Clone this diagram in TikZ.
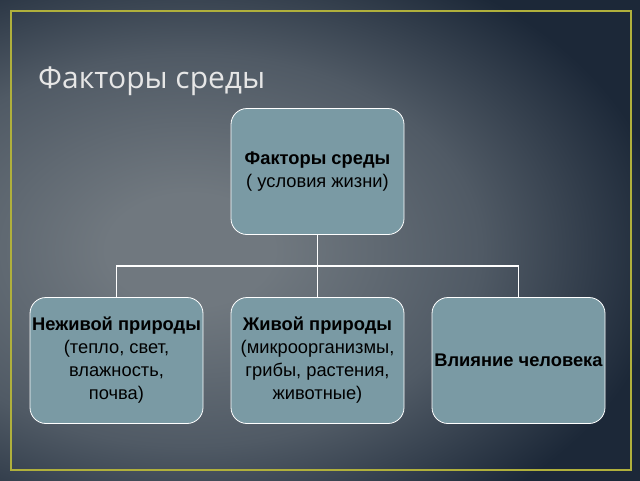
\documentclass[tikz,border=0pt]{standalone}
\usepackage{fontspec}
\setmainfont{Liberation Sans}
\newfontfamily\titlefont{Open Sans}
\definecolor{bgA}{RGB}{112,120,127}
\definecolor{bgM}{RGB}{80,90,101}
\definecolor{bgB}{RGB}{28,40,56}
\definecolor{boxc}{RGB}{122,154,164}
\definecolor{framec}{RGB}{176,176,60}
\definecolor{titlec}{RGB}{230,230,230}
\pgfdeclareradialshading{bgshade}{\pgfpoint{0bp}{0bp}}{color(0bp)=(bgA); color(4bp)=(bgA); color(14bp)=(bgM); color(23bp)=(bgB); color(50bp)=(bgB)}
\tikzset{
  fbox/.style={draw=white, line width=0.8pt, fill=boxc, rounded corners=16pt,
    minimum width=173pt, minimum height=126pt, inner sep=0pt, align=center,
    text=black, font=\fontsize{18.3}{23}\selectfont},
  conn/.style={draw=white, line width=1.6pt},
}
\begin{document}
\begin{tikzpicture}[x=1pt,y=-1pt]
\useasboundingbox (0,0) rectangle (640,480);
\fill[bgB] (-6,-6) rectangle (646,486);
\begin{scope}
\clip (-6,-6) rectangle (646,486);
\shade[shading=bgshade] (190,250) ellipse [x radius=520, y radius=350];
\end{scope}
\draw[framec, line width=2pt] (11,10.5) rectangle (630.5,469.5);
\node[anchor=base west, inner sep=0pt, text=titlec, font=\titlefont\fontsize{30}{36}\selectfont] (title) at (38,88) {Факторы среды};
\node[fbox] (top) at (317.5,171.5) {\textbf{Факторы среды}\\( условия жизни)};
\node[fbox] (left) at (116.5,360.5) {\textbf{Неживой природы}\\(тепло, свет,\\влажность,\\почва)};
\node[fbox] (mid) at (317.5,360.5) {\textbf{Живой природы}\\(микроорганизмы,\\грибы, растения,\\животные)};
\node[fbox] (right) at (518.5,360.5) {\textbf{Влияние человека}};
\coordinate (j) at (317.5,266);
\draw[conn] (top.south) -- (mid.north);
\draw[conn] (left.north) |- (j) -| (right.north);
\end{tikzpicture}
\end{document}
